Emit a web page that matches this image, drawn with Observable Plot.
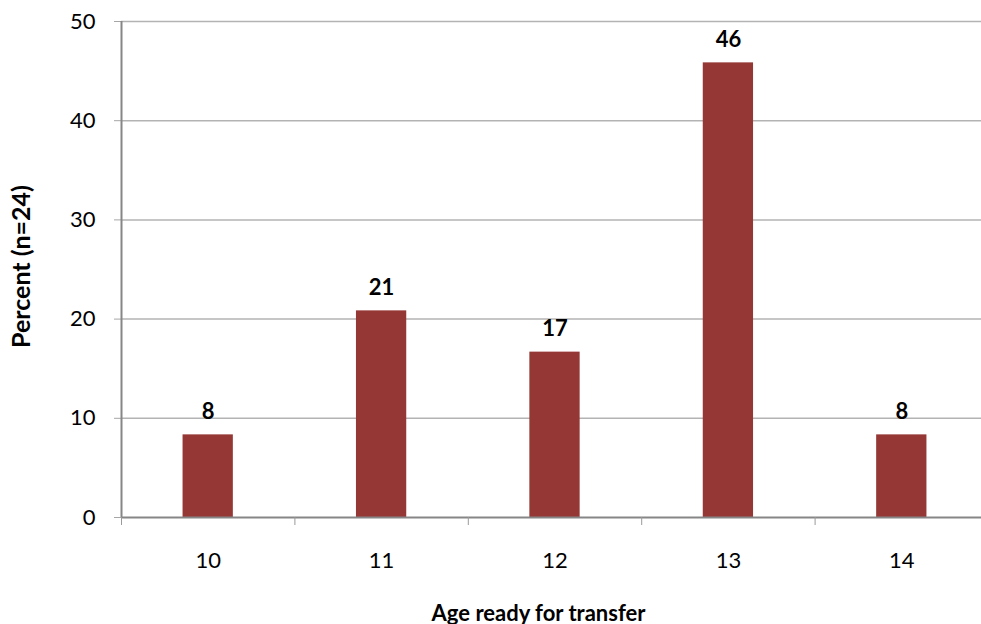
<!DOCTYPE html>
<html>
<head>
<meta charset="utf-8">
<script src="https://cdn.jsdelivr.net/npm/d3@7"></script>
<script src="https://cdn.jsdelivr.net/npm/@observablehq/plot@0.6"></script>
<style>
  html, body { margin: 0; padding: 0; background: #ffffff; }
</style>
</head>
<body>
<div id="chart"></div>
<script>
// Age at which respondents felt ready for transfer (percent of n = 24)
const ages = [10, 11, 12, 13, 14];
const percents = [8.33, 20.83, 16.67, 45.83, 8.33];
const yTicks = [0, 10, 20, 30, 40, 50];
const xLabel = "Age ready for transfer";
const yLabel = "Percent (n=24)";

const data = ages.map((age, i) => ({age, pct: percents[i]}));
// category boundaries, where the tick marks sit
const bounds = ages.map(a => a - 0.5).concat([ages[ages.length - 1] + 0.5]);
const halfBar = 0.145;
const fmt = d3.format(".0f");

const chart = Plot.plot({
  width: 981,
  height: 624,
  marginLeft: 121,
  marginRight: 0,
  marginTop: 21,
  marginBottom: 107,
  style: {fontFamily: "Lato", background: "#ffffff", color: "#000000", overflow: "visible"},
  x: {type: "linear", domain: [bounds[0], bounds[bounds.length - 1]], range: [121, 988]},
  y: {domain: [0, 50], range: [517, 21]},
  marks: [
    Plot.gridY(yTicks.slice(1), {stroke: "#b3b3b3", strokeOpacity: 1, strokeWidth: 1.5}),
    Plot.axisY({ticks: yTicks, tickSize: 7, tickPadding: 19, fontSize: 22, stroke: "#a6a6a6", fill: "#000000", label: null}),
    Plot.rectY(data, {x1: d => d.age - halfBar, x2: d => d.age + halfBar, y: "pct", fill: "#953735"}),
    Plot.ruleX([bounds[0]], {stroke: "#868686", strokeWidth: 2}),
    Plot.ruleY([0], {stroke: "#868686", strokeWidth: 2}),
    Plot.axisX({ticks: bounds, tickFormat: () => "", tickSize: 8, stroke: "#9a9a9a", label: null}),
    Plot.axisX({ticks: ages, tickFormat: d3.format("d"), tickSize: 0, tickPadding: 35, fontSize: 22, fill: "#000000", label: null}),
    Plot.text(data, {x: "age", y: "pct", text: d => fmt(d.pct), lineAnchor: "bottom", dy: -16, fontWeight: "bold", fontSize: 22, fill: "#000000"}),
    Plot.text([xLabel], {frameAnchor: "bottom", textAnchor: "middle", dy: 103, dx: -13, lineAnchor: "bottom", fontWeight: "bold", fontSize: 22, fill: "#000000"}),
    Plot.text([yLabel], {frameAnchor: "left", textAnchor: "middle", dx: -100, dy: -3, rotate: -90, fontWeight: "bold", fontSize: 25, fill: "#000000"})
  ]
});

document.getElementById("chart").appendChild(chart);
</script>
</body>
</html>
